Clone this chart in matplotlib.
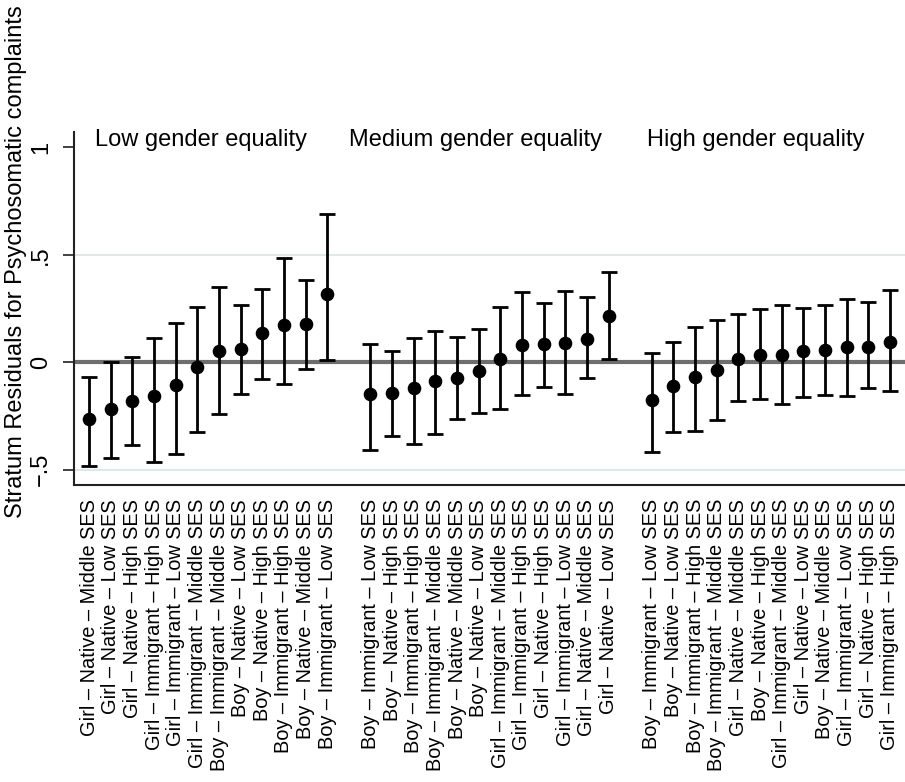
import numpy as np
import matplotlib
matplotlib.use("Agg")
import matplotlib.pyplot as plt

plt.rcParams['font.family'] = ['Liberation Sans', 'DejaVu Sans']

# Stratum residuals (estimate, lower, upper) by gender equality group
low_labels = [
    "Girl – Native – Middle SES", "Girl – Native – Low SES", "Girl – Native – High SES",
    "Girl – Immigrant – High SES", "Girl – Immigrant – Low SES", "Girl – Immigrant – Middle SES",
    "Boy – Immigrant – Middle SES", "Boy – Native – Low SES", "Boy – Native – High SES",
    "Boy – Immigrant – High SES", "Boy – Native – Middle SES", "Boy – Immigrant – Low SES",
]
low_est = [-0.265, -0.216, -0.178, -0.155, -0.107, -0.022, 0.050, 0.062, 0.135, 0.172, 0.178, 0.319]
low_lo = [-0.482, -0.447, -0.386, -0.464, -0.426, -0.324, -0.239, -0.149, -0.079, -0.101, -0.031, 0.012]
low_hi = [-0.068, 0.000, 0.023, 0.115, 0.183, 0.259, 0.352, 0.267, 0.340, 0.487, 0.381, 0.688]

med_labels = [
    "Boy – Immigrant – Low SES", "Boy – Native – High SES", "Boy – Immigrant – High SES",
    "Boy – Immigrant – Middle SES", "Boy – Native – Middle SES", "Boy – Native – Low SES",
    "Girl – Immigrant – Middle SES", "Girl – Immigrant – High SES", "Girl – Native – High SES",
    "Girl – Immigrant – Low SES", "Girl – Native – Middle SES", "Girl – Native – Low SES",
]
med_est = [-0.150, -0.144, -0.122, -0.088, -0.073, -0.039, 0.017, 0.082, 0.085, 0.090, 0.110, 0.214]
med_lo = [-0.409, -0.343, -0.380, -0.332, -0.262, -0.236, -0.217, -0.153, -0.113, -0.149, -0.074, 0.016]
med_hi = [0.085, 0.051, 0.115, 0.146, 0.116, 0.155, 0.257, 0.329, 0.276, 0.333, 0.302, 0.422]

high_labels = [
    "Boy – Immigrant – Low SES", "Boy – Native – Low SES", "Boy – Immigrant – High SES",
    "Boy – Immigrant – Middle SES", "Girl – Native – Middle SES", "Boy – Native – High SES",
    "Girl – Immigrant – Middle SES", "Girl – Native – Low SES", "Boy – Native – Middle SES",
    "Girl – Immigrant – Low SES", "Girl – Native – High SES", "Girl – Immigrant – High SES",
]
high_est = [-0.177, -0.110, -0.070, -0.034, 0.017, 0.034, 0.034, 0.050, 0.057, 0.070, 0.073, 0.093]
high_lo = [-0.417, -0.326, -0.318, -0.268, -0.180, -0.172, -0.194, -0.160, -0.152, -0.155, -0.122, -0.133]
high_hi = [0.045, 0.096, 0.166, 0.197, 0.223, 0.247, 0.268, 0.253, 0.264, 0.293, 0.281, 0.335]

group_titles = ["Low gender equality", "Medium gender equality", "High gender equality"]

groups = [
    (low_labels, low_est, low_lo, low_hi),
    (med_labels, med_est, med_lo, med_hi),
    (high_labels, high_est, high_lo, high_hi),
]

fig = plt.figure(figsize=(9.05, 7.82), dpi=100)
ax = fig.add_axes([0.0818, 0.3798, 0.9182, 0.4514])

# reference lines
for g in [-0.5, 0.5]:
    ax.axhline(g, color="#dce8eb", lw=1.5, zorder=1)
ax.axhline(0, color="#6e6e6e", lw=3, zorder=2)

all_pos = []
all_labels = []
title_x = [6.19, 18.85, 31.8]
for gi, (labels, est, lo, hi) in enumerate(groups):
    pos = np.arange(len(labels)) + 1 + gi * 13
    est = np.array(est)
    err = np.vstack([est - np.array(lo), np.array(hi) - est])
    ax.errorbar(pos, est, yerr=err, fmt="o", color="black", ms=8.8,
                elinewidth=2, capsize=5.5, capthick=2, zorder=3)
    all_pos.extend(pos)
    all_labels.extend(labels)
    ax.text(title_x[gi], 1.034, group_titles[gi], ha="center", va="center", fontsize=17)

ax.set_xlim(0.3, 38.7)
ax.set_ylim(-0.571, 1.071)

ax.set_xticks(all_pos)
ax.set_xticklabels(all_labels, rotation=90, fontsize=14.4, ha="center", va="top")
ax.tick_params(axis="x", length=0, pad=10)

ax.set_yticks([-0.5, 0, 0.5, 1])
ax.set_yticklabels(["\u2212.5", "0", ".5", "1"], rotation=90, va="center", fontsize=17)
ax.tick_params(axis="y", length=8, width=1.3, color="#333333", pad=8)

for s in ["top", "right"]:
    ax.spines[s].set_visible(False)
for s in ["left", "bottom"]:
    ax.spines[s].set_linewidth(1.5)
    ax.spines[s].set_color("#222222")

fig.text(16 / 905, 0.665, "Stratum Residuals for Psychosomatic complaints",
         rotation=90, ha="center", va="center", fontsize=17)

fig.savefig("out.png", dpi=100)
